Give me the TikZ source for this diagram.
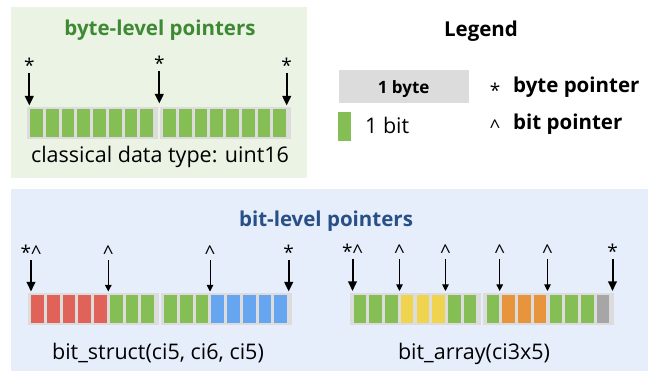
\documentclass[tikz,border=0pt]{standalone}
\usepackage{fontspec}
\setmainfont{Open Sans}
\usetikzlibrary{arrows.meta}
\definecolor{bitgreen}{RGB}{132,190,85}
\definecolor{bitred}{RGB}{224,98,88}
\definecolor{bitblue}{RGB}{102,166,240}
\definecolor{bityellow}{RGB}{240,212,80}
\definecolor{bitorange}{RGB}{232,148,60}
\definecolor{bitgray}{RGB}{166,166,166}
\definecolor{bytebg}{RGB}{220,220,220}
\definecolor{panelgreen}{RGB}{235,243,228}
\definecolor{panelblue}{RGB}{230,238,251}
\definecolor{titlegreen}{RGB}{62,138,52}
\definecolor{titleblue}{RGB}{40,80,135}
\tikzset{
  bytebox/.style={fill=bytebg, draw=none, inner sep=0, anchor=north west, minimum width=131pt, minimum height=32pt},
  bitbox/.style={draw=none, inner sep=0, anchor=north west, minimum width=12.6pt, minimum height=28pt},
  panel/.style={draw=none, inner sep=0, anchor=north west},
  txt/.style={inner sep=0, anchor=base, font=\fontsize{21.5}{24}\selectfont},
  ttl/.style={inner sep=0, anchor=base, font=\fontsize{20.5}{24}\selectfont\bfseries},
  ptrlbl/.style={inner sep=0, anchor=base, font=\fontsize{19}{21}\selectfont},
  thickarrow/.style={line width=2pt, -{Triangle[length=9.5pt,width=8.5pt]}},
  thinarrow/.style={line width=0.9pt, -{Triangle[length=6.5pt,width=6.5pt]}},
}
\newcommand\drawbitrow[4]{%
  \node[bytebox] (#1-B0) at (#2,#3) {};
  \node[bytebox] (#1-B1) at ({#2+133},#3) {};
  \foreach \c [count=\i from 0] in {#4} {
    \pgfmathsetmacro\bx{#2 + 3.3 + mod(\i,8)*15.75 + int(\i/8)*133}
    \node[bitbox, fill=\c] (#1-\i) at (\bx, #3+2) {};
  }%
}
\begin{document}
\begin{tikzpicture}[x=1pt,y=-1pt]
\useasboundingbox (0,0) rectangle (654,371);
% panels
\node[panel, fill=panelgreen, minimum width=295.7pt, minimum height=171.6pt] (pg) at (11,6.7) {};
\node[panel, fill=panelblue, minimum width=637pt, minimum height=182pt] (pb) at (11,189) {};
% titles
\node[ttl, text=titlegreen] (tg) at (160,36) {byte-level pointers};
\node[ttl, text=titleblue] (tb) at (326,227) {bit-level pointers};
\node[ttl] (tl) at (481,37) {Legend};

% byte-level row
\drawbitrow{t}{26.7}{107.3}{bitgreen,bitgreen,bitgreen,bitgreen,bitgreen,bitgreen,bitgreen,bitgreen,bitgreen,bitgreen,bitgreen,bitgreen,bitgreen,bitgreen,bitgreen,bitgreen}
\node[txt] (tcap) at (160,162.5) {classical data type: uint16};
\node[ptrlbl] (tl1) at (29.3,73) {*};
\node[ptrlbl] (tl2) at (159.3,71) {*};
\node[ptrlbl] (tl3) at (286.7,73) {*};
\coordinate (tp1) at (29.3,105.5);
\coordinate (tp2) at (159.3,103.5);
\coordinate (tp3) at (286.7,105.5);
\draw[thickarrow] (tl1.base) -- (tp1);
\draw[thickarrow] (tl2.base) -- (tp2);
\draw[thickarrow] (tl3.base) -- (tp3);

% bit_struct row
\drawbitrow{s}{27.7}{292.7}{bitred,bitred,bitred,bitred,bitred,bitgreen,bitgreen,bitgreen,bitgreen,bitgreen,bitgreen,bitblue,bitblue,bitblue,bitblue,bitblue}
\node[txt] (scap) at (158,360) {bit\_struct(ci5, ci6, ci5)};
\node[ptrlbl] (sl1) at (31,260) {*\^{}};
\node[ptrlbl] (sl2) at (108.3,260) {\^{}};
\node[ptrlbl] (sl3) at (210,260) {\^{}};
\node[ptrlbl] (sl4) at (288.7,260) {*};
\coordinate (sp1) at (31,291.5);
\coordinate (sp2) at (108.3,291.5);
\coordinate (sp3) at (210,291.5);
\coordinate (sp4) at (288.7,291.5);
\draw[thickarrow] (sl1.base) -- (sp1);
\draw[thinarrow] (sl2.base) -- (sp2);
\draw[thinarrow] (sl3.base) -- (sp3);
\draw[thickarrow] (sl4.base) -- (sp4);

% bit_array row
\drawbitrow{a}{350}{292.7}{bitgreen,bitgreen,bitgreen,bityellow,bityellow,bityellow,bitgreen,bitgreen,bitgreen,bitorange,bitorange,bitorange,bitgreen,bitgreen,bitgreen,bitgray}
\node[txt] (acap) at (474,360) {bit\_array(ci3x5)};
\node[ptrlbl] (al1) at (352.5,259) {*\^{}};
\node[ptrlbl] (al2) at (399.5,259) {\^{}};
\node[ptrlbl] (al3) at (445.5,259) {\^{}};
\node[ptrlbl] (al4) at (499.7,259) {\^{}};
\node[ptrlbl] (al5) at (547.5,259) {\^{}};
\node[ptrlbl] (al6) at (612.5,259) {*};
\coordinate (ap1) at (352.5,291);
\coordinate (ap2) at (399.5,291);
\coordinate (ap3) at (445.5,291);
\coordinate (ap4) at (499.7,291);
\coordinate (ap5) at (547.5,291);
\coordinate (ap6) at (612.5,291);
\draw[thickarrow] (al1.base) -- (ap1);
\draw[thinarrow] (al2.base) -- (ap2);
\draw[thinarrow] (al3.base) -- (ap3);
\draw[thinarrow] (al4.base) -- (ap4);
\draw[thinarrow] (al5.base) -- (ap5);
\draw[thickarrow] (al6.base) -- (ap6);

% legend
\node[panel, fill=bytebg, minimum width=130.7pt, minimum height=32.5pt] (lbyte) at (338.3,70) {};
\node[inner sep=0, anchor=base, font=\fontsize{17}{19}\selectfont\bfseries] (lbytet) at (403.7,93.5) {1 byte};
\node[bitbox, fill=bitgreen, minimum height=29.3pt] (lbit) at (338,111.7) {};
\node[txt, anchor=base west] (lbitt) at (365,133.5) {1 bit};
\node[ptrlbl] (lstar) at (495,97.5) {*};
\node[ttl, anchor=base west] (lbp) at (513,93) {byte pointer};
\node[ptrlbl] (lcaret) at (495,134) {\^{}};
\node[ttl, anchor=base west] (lbitp) at (513,130) {bit pointer};
\end{tikzpicture}
\end{document}
